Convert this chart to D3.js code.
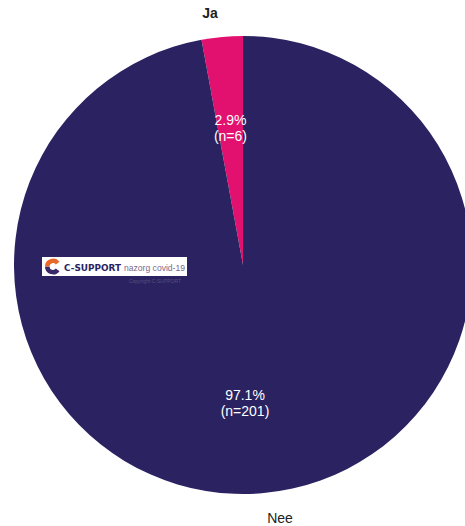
<!DOCTYPE html>
<html><head><meta charset="utf-8">
<script src="https://cdn.jsdelivr.net/npm/d3@7"></script>
<style>body{margin:0;background:#fff}svg{display:block}</style>
</head><body>
<svg id="c" width="465" height="526"></svg>
<script>
const categories = ["Ja", "Nee"];
const percents = [2.9, 97.1];
const counts = [6, 201];
const colors = ["#e2116f", "#2b2361"];

const svg = d3.select("#c");
const cx = 243, cy = 265, R = 229;
const g = svg.append("g").attr("transform", `translate(${cx},${cy})`);

const data = categories.map((c, i) => ({cat: c, pct: percents[i], n: counts[i], color: colors[i]}));
// Ja drawn counter-clockwise from 12 o'clock; Nee fills the rest
const pie = d3.pie().value(d => d.pct).sort(null)
  .startAngle(-2 * Math.PI * percents[0] / 100)
  .endAngle(2 * Math.PI - 2 * Math.PI * percents[0] / 100);
const arcs = pie(data);
const arc = d3.arc().innerRadius(0).outerRadius(R);

g.selectAll("path").data(arcs).join("path")
  .attr("d", arc).attr("fill", d => d.data.color);

const inner = d3.arc().innerRadius(138).outerRadius(138);
const outer = d3.arc().innerRadius(253).outerRadius(253);

arcs.forEach((a, i) => {
  const mid = (a.startAngle + a.endAngle) / 2;
  let p;
  if (i === 0) p = inner.centroid(a);
  else p = [2, 139 * -Math.cos(mid)];
  const t = g.append("text").attr("text-anchor", "middle")
    .attr("fill", "#fff").attr("font-family", "Liberation Sans, Arial, sans-serif")
    .attr("font-size", 14);
  t.append("tspan").attr("x", p[0]).attr("y", p[1] - 3).text(a.data.pct.toFixed(1) + "%");
  t.append("tspan").attr("x", p[0]).attr("y", p[1] + 13).text("(n=" + a.data.n + ")");
  const q = outer.centroid(a);
  const lx = i === 0 ? q[0] - 10 : q[0] + 14;
  const ly = i === 0 ? -247 : 258;
  g.append("text").attr("x", lx).attr("y", ly).attr("text-anchor", "middle")
    .attr("font-family", "Liberation Sans, Arial, sans-serif")
    .attr("font-size", 14).attr("font-weight", i === 0 ? "bold" : "normal")
    .attr("fill", "#222").text(a.data.cat);
});

// Logo watermark
const lg = svg.append("g").attr("transform", "translate(42,257)");
lg.append("rect").attr("width", 145).attr("height", 19).attr("fill", "#fff");
lg.append("path").attr("d", d3.arc()({innerRadius: 3.5, outerRadius: 8, startAngle: Math.PI * 0.7, endAngle: Math.PI * 1.5}))
  .attr("transform", "translate(11,9.5)").attr("fill", "#3a2a6a");
lg.append("path").attr("d", d3.arc()({innerRadius: 3.5, outerRadius: 8, startAngle: Math.PI * 1.5, endAngle: Math.PI * 2.3}))
  .attr("transform", "translate(11,9.5)").attr("fill", "#e8692a");
lg.append("text").attr("x", 22).attr("y", 13.5).attr("font-family", "DejaVu Sans, sans-serif")
  .attr("font-weight", "bold").attr("font-size", 9.5).attr("fill", "#2b2361")
  .attr("textLength", 57).attr("lengthAdjust", "spacingAndGlyphs").text("C-SUPPORT");
lg.append("text").attr("x", 82).attr("y", 13.5).attr("font-family", "Liberation Sans, Arial, sans-serif")
  .attr("font-size", 9).attr("fill", "#7a6a8a")
  .attr("textLength", 61).attr("lengthAdjust", "spacingAndGlyphs").text("nazorg covid-19");
svg.append("text").attr("x", 155).attr("y", 283).attr("text-anchor", "middle")
  .attr("font-family", "Liberation Sans, Arial, sans-serif").attr("font-size", 5)
  .attr("fill", "#55507a").text("Copyright C-SUPPORT");
</script>
</body></html>
